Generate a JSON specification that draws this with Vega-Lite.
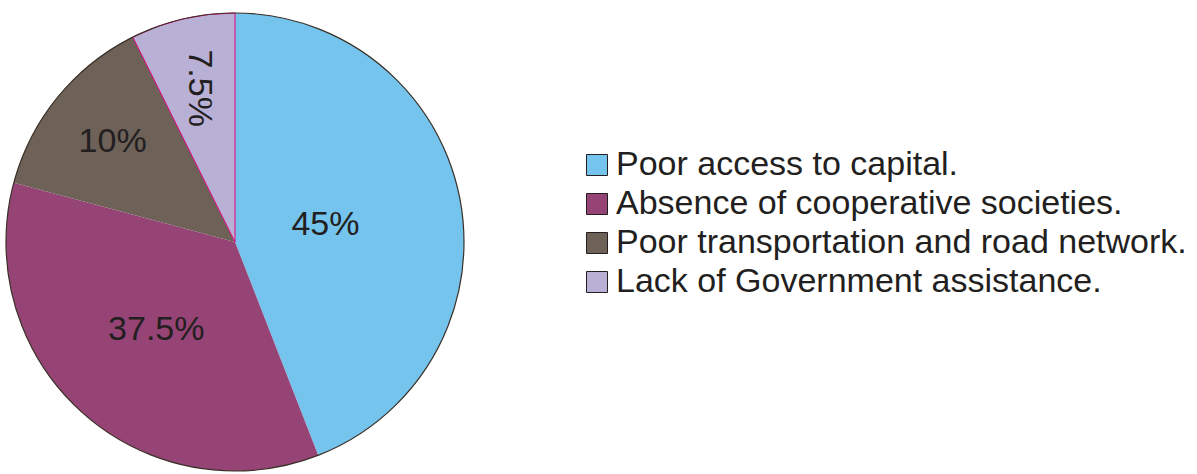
{
  "$schema": "https://vega.github.io/schema/vega-lite/v6.json",
  "autosize": "none",
  "width": 470,
  "height": 464,
  "padding": {"left": 0, "top": 10, "right": 727, "bottom": 0},
  "background": "white",
  "config": {"view": {"stroke": null}, "font": "Liberation Sans"},
  "resolve": {"scale": {"theta": "independent"}},
  "layer": [
    {
      "data": {"name": "slices", "values": [
        {"cat": "Poor access to capital.", "label": "45%", "value": 158.7, "idx": 1},
        {"cat": "Absence of cooperative societies.", "label": "37.5%", "value": 126.3, "idx": 2},
        {"cat": "Poor transportation and road network.", "label": "10%", "value": 48.5, "idx": 3},
        {"cat": "Lack of Government assistance.", "label": "7.5%", "value": 26.5, "idx": 4}
      ]},
      "layer": [
        {
          "mark": {"type": "arc", "radius": 229, "strokeWidth": 1},
          "encoding": {
            "theta": {"field": "value", "type": "quantitative", "stack": true},
            "order": {"field": "idx", "type": "quantitative"},
            "color": {
              "field": "cat", "type": "nominal",
              "scale": {
                "domain": ["Poor access to capital.", "Absence of cooperative societies.", "Poor transportation and road network.", "Lack of Government assistance."],
                "range": ["#75C4EE", "#964476", "#6D6158", "#B9B0D5"]
              },
              "legend": {
                "title": null,
                "orient": "none",
                "legendX": 580,
                "legendY": 138,
                "padding": 0,
                "symbolType": "square",
                "symbolSize": 441,
                "symbolStrokeColor": "#231F20",
                "symbolStrokeWidth": 1,
                "symbolOpacity": 1,
                "labelFontSize": 34,
                "labelFont": "Liberation Sans",
                "labelColor": "#231F20",
                "labelLimit": 0,
                "labelOffset": 2,
                "rowPadding": 5
              }
            },
            "stroke": {
              "condition": {"test": "datum.label === '7.5%'", "value": "#E5007E"},
              "value": "transparent"
            }
          }
        },
        {
          "mark": {
            "type": "text",
            "fontSize": 34,
            "font": "Liberation Sans",
            "color": "#231F20",
            "align": "center",
            "baseline": "middle",
            "radius": {"expr": "datum.label === '45%' ? 92 : datum.label === '37.5%' ? 118 : 158"},
            "angle": {"expr": "datum.label === '7.5%' ? 90 : 0"}
          },
          "encoding": {
            "theta": {"field": "value", "type": "quantitative", "stack": true},
            "order": {"field": "idx", "type": "quantitative"},
            "text": {"field": "label", "type": "nominal"}
          }
        }
      ]
    },
    {
      "data": {"values": [{"v": 1}]},
      "mark": {"type": "arc", "radius": 229, "fill": null, "stroke": "#3a3026", "strokeWidth": 1.2},
      "encoding": {
        "theta": {"field": "v", "type": "quantitative"}
      }
    }
  ]
}
